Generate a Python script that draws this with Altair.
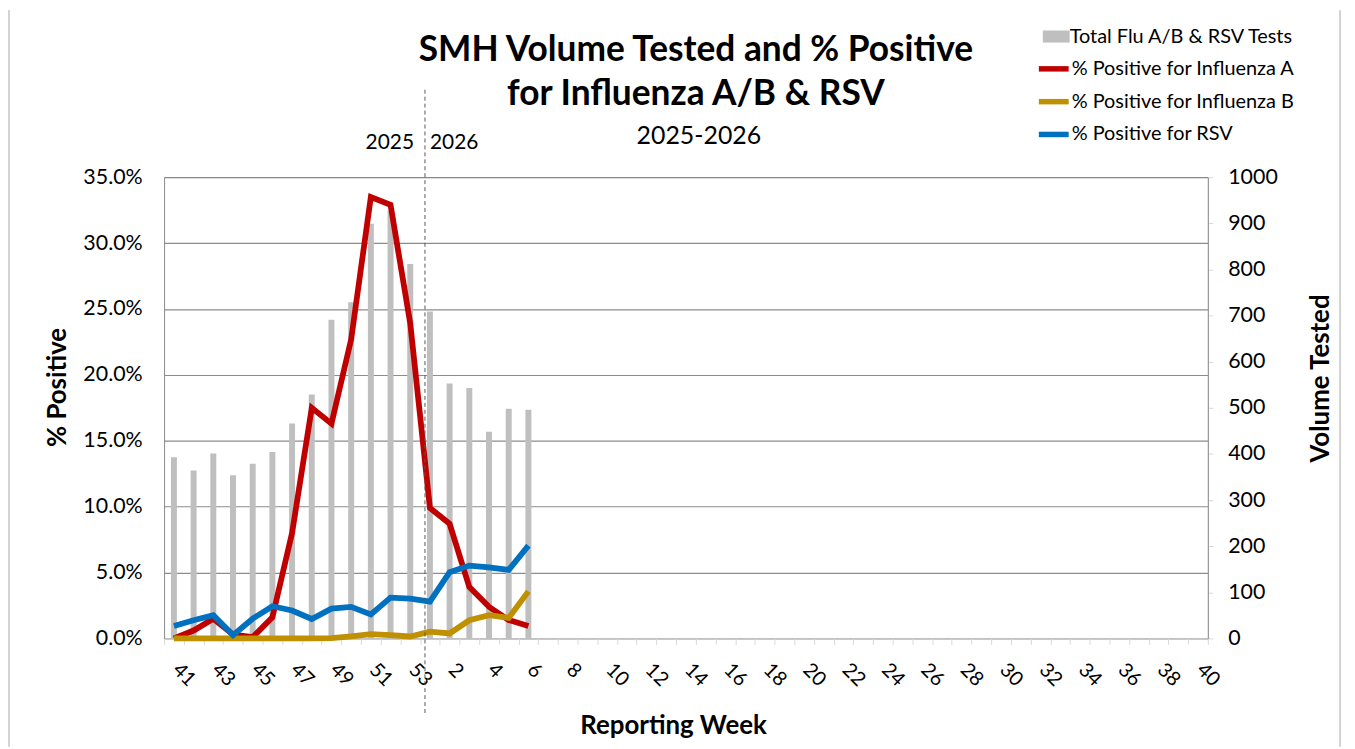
import altair as alt
import pandas as pd

weeks = [str(w) for w in range(41, 54)] + [str(w) for w in range(1, 41)]

# Observed weeks (41..53 of 2025, 1..6 of 2026)
obs_weeks = [str(w) for w in range(41, 54)] + [str(w) for w in range(1, 7)]
total_tests = [393, 364, 401, 354, 379, 404, 466, 529, 691, 729, 899, 928, 812,
               709, 553, 543, 448, 498, 496]
flu_a = [0.0, 0.6, 1.5, 0.3, 0.1, 1.6, 8.0, 17.5, 16.3, 22.7, 33.5, 32.9, 23.9,
         9.9, 8.7, 3.9, 2.4, 1.4, 0.95]
flu_b = [0.0, 0.0, 0.0, 0.0, 0.0, 0.0, 0.0, 0.0, 0.03, 0.15, 0.32, 0.25, 0.15,
         0.52, 0.38, 1.38, 1.76, 1.56, 3.57]
rsv = [0.95, 1.38, 1.76, 0.25, 1.5, 2.44, 2.12, 1.48, 2.26, 2.4, 1.82, 3.1, 3.02,
       2.8, 5.03, 5.53, 5.4, 5.2, 7.04]

series_names = ["% Positive for Influenza A", "% Positive for Influenza B", "% Positive for RSV"]
series_colors = ["#C00000", "#BF9000", "#0070C0"]
bar_name = "Total Flu A/B & RSV Tests"
even_labels = [str(w) for w in range(41, 54, 2)] + [str(w) for w in range(2, 41, 2)]
pct_ticks = [round(i * 0.05, 2) for i in range(8)]
vol_ticks = list(range(0, 1001, 100))
title_lines = ["SMH Volume Tested and % Positive", "for Influenza A/B & RSV"]
subtitle = "2025-2026"

FONT = "Lato"

bars_df = pd.DataFrame({"week": obs_weeks, "tests": total_tests, "name": bar_name})
rows = []
for name, vals in zip(series_names, [flu_a, flu_b, rsv]):
    for w, v in zip(obs_weeks, vals):
        rows.append({"week": w, "pct": v / 100.0, "series": name})
lines_df = pd.DataFrame(rows)

xscale = alt.Scale(domain=weeks, paddingInner=0, paddingOuter=0)
label_expr = "indexof(" + str(even_labels).replace(" ", "") + ", datum.value) >= 0 ? datum.value : ''"
xaxis = alt.Axis(
    title="Reporting Week", titleFont=FONT, titleFontSize=26, titleFontWeight="bold",
    titleColor="#000", titleX=512, titleY=88, titleAlign="center", titleBaseline="middle",
    labelExpr=label_expr, labelAngle=45, labelAlign="left", labelBaseline="middle",
    labelOverlap=False, labelFont=FONT, labelFontSize=20, labelColor="#000",
    labelPadding=22, labelOffset=1.5,
    tickBand="extent", tickColor="#d9d9d9", tickSize=6,
    domainColor="#d9d9d9", grid=False,
)

bars = alt.Chart(bars_df).mark_bar(width=6, color="#BFBFBF").encode(
    x=alt.X("week:N", scale=xscale, sort=weeks, axis=xaxis),
    y=alt.Y("tests:Q", scale=alt.Scale(domain=[0, 1000], nice=False),
            axis=alt.Axis(orient="right", values=vol_ticks, format="d", grid=False,
                          title="Volume Tested", titleAngle=270, titleFont=FONT,
                          titleFontSize=26, titleFontWeight="bold", titleColor="#000",
                          titleX=113, titleY=202, titleAlign="center", titleBaseline="middle",
                          labelFont=FONT, labelFontSize=21.5,
                          labelColor="#000", labelPadding=15, tickSize=5,
                          tickColor="#d9d9d9", domainColor="#8c8c8c")),
    fill=alt.Fill("name:N", scale=alt.Scale(domain=[bar_name], range=["#BFBFBF"]),
                  legend=alt.Legend(title=None, orient="none", legendX=884, legendY=-155,
                                    labelFont=FONT, labelFontSize=20, labelColor="#000",
                                    labelLimit=0,
                                    symbolType="M-1,-0.45H1V0.45H-1Z", symbolSize=729,
                                    symbolStrokeWidth=0, labelOffset=0, symbolOffset=0)),
)

lines = alt.Chart(lines_df).mark_line(strokeWidth=5.8, strokeJoin="miter").encode(
    x=alt.X("week:N", scale=xscale, sort=weeks, axis=xaxis),
    y=alt.Y("pct:Q", scale=alt.Scale(domain=[0, 0.35], nice=False),
            axis=alt.Axis(orient="left", format=".1%", values=pct_ticks,
                          grid=True, gridColor="#8c8c8c", gridWidth=1.2,
                          title="% Positive", titleFont=FONT, titleFontSize=26,
                          titleFontWeight="bold", titleColor="#000",
                          titleX=-107, titleY=211, titleAlign="center", titleBaseline="middle",
                          labelFont=FONT, labelFontSize=21.5, labelColor="#000",
                          labelPadding=22, ticks=False, domainColor="#8c8c8c")),
    stroke=alt.Stroke("series:N", scale=alt.Scale(domain=series_names, range=series_colors),
                      legend=alt.Legend(title=None, orient="none", legendX=877, legendY=-127,
                                        labelFont=FONT, labelFontSize=20, labelColor="#000",
                                        labelLimit=0,
                                        symbolType="stroke", symbolSize=900,
                                        symbolStrokeWidth=5.5, rowPadding=4,
                                        labelOffset=0, symbolOffset=0)),
    detail="series:N",
)

div_df = pd.DataFrame({"week": ["1"], "left": ["2025"], "right": ["2026"]})
divider = alt.Chart(div_df).mark_rule(strokeDash=[4, 3], color="#595959", strokeWidth=1,
                                      xOffset=-5).encode(
    x=alt.X("week:N", scale=xscale, sort=weeks),
    y=alt.value(-88), y2=alt.value(539),
)
txt_l = alt.Chart(div_df).mark_text(font=FONT, fontSize=21, align="right", baseline="middle",
                                    dx=-16, color="#000").encode(
    x=alt.X("week:N", scale=xscale, sort=weeks), y=alt.value(-34), text="left:N")
txt_r = alt.Chart(div_df).mark_text(font=FONT, fontSize=21, align="left", baseline="middle",
                                    dx=0, color="#000").encode(
    x=alt.X("week:N", scale=xscale, sort=weeks), y=alt.value(-34), text="right:N")

title_df = pd.DataFrame({"t": title_lines, "dy": [-128, -84]})
title_mark = alt.Chart(title_df).mark_text(font=FONT, fontSize=35.5, fontWeight="bold",
                                           align="center", baseline="middle",
                                           color="#000").encode(
    x=alt.value(535), y=alt.Y("dy:Q", scale=None), text="t:N")
sub_df = pd.DataFrame({"t": [subtitle]})
sub_mark = alt.Chart(sub_df).mark_text(font=FONT, fontSize=25, align="center",
                                       baseline="middle", color="#000").encode(
    x=alt.value(538), y=alt.value(-41), text="t:N")

border_df = pd.DataFrame({"side": ["left", "right"], "px": [-156, 1183]})
border = alt.Chart(border_df).mark_rule(color="#a6a6a6", strokeWidth=1).encode(
    x=alt.X("px:Q", scale=None), y=alt.value(-168), y2=alt.value(573))

chart = alt.layer(bars, lines, divider, txt_l, txt_r, title_mark, sub_mark, border).resolve_scale(
    y="independent", fill="independent", stroke="independent"
).properties(
    width=1050, height=464,
    autosize=alt.AutoSizeParams(type="none"),
    padding={"left": 157, "top": 168, "right": 140, "bottom": 109},
).configure_view(stroke=None).configure(background="white")

chart.save("out.html", embed_options={"renderer": "svg", "actions": False})
